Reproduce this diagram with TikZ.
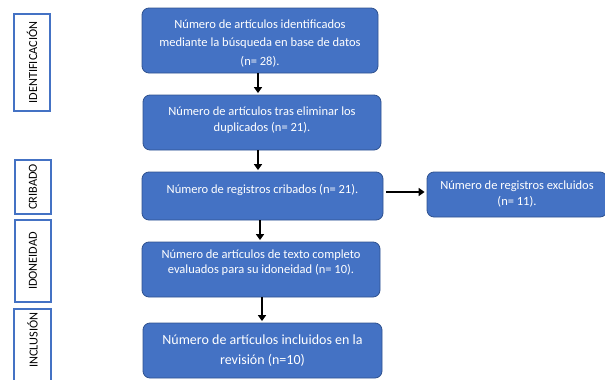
\documentclass[tikz,border=0pt]{standalone}
\usepackage{fontspec}
\setmainfont{Carlito}
\usetikzlibrary{arrows.meta,calc}
\definecolor{boxblue}{HTML}{4472C4}
\definecolor{boxedge}{HTML}{2F528F}
\tikzset{
  box/.style={draw=boxedge, line width=0.8pt, fill=boxblue, rounded corners=7pt, inner sep=0pt},
  txt/.style={text=white, align=center, font=\fontsize{12.5}{16}\selectfont, inner sep=0pt},
  phase/.style={draw=boxblue, line width=1.1pt, fill=white, inner sep=0pt},
  phasetxt/.style={rotate=90, font=\fontsize{12.3}{14}\selectfont, inner sep=0pt},
  arr/.style={line width=1.8pt, -{Triangle[length=6pt,width=8pt]}}
}
\begin{document}
\begin{tikzpicture}[x=1pt,y=-1pt]
\useasboundingbox (0,0) rectangle (605,380);
% phase labels
\node[phase, minimum width=36pt, minimum height=97pt] (p1) at (32,62.5) {};
\node[phasetxt] at (p1.center) {IDENTIFICACIÓN};
\node[phase, minimum width=36pt, minimum height=54pt] (p2) at (33,187) {};
\node[phasetxt] at (p2.center) {CRIBADO};
\node[phase, minimum width=36pt, minimum height=82pt] (p3) at (33,261) {};
\node[phasetxt] at (p3.center) {IDONEIDAD};
\node[phase, minimum width=37pt, minimum height=90pt] (p4) at (32.5,354) {};
\node[phasetxt] at ($(p4.center)+(0,-14)$) {INCLUSIÓN};
% main boxes
\node[box, minimum width=236pt, minimum height=65pt] (b1) at (260,40.5) {};
\node[txt, font=\fontsize{12.5}{18.5}\selectfont] at ($(b1.center)+(0,3)$) {Número de artículos identificados\\mediante la búsqueda en base de datos\\(n= 28).};
\node[box, minimum width=238pt, minimum height=55pt] (b2) at (262,122.5) {};
\node[txt] at ($(b2.center)+(0,-2)$) {Número de artículos tras eliminar los\\duplicados (n= 21).};
\node[box, minimum width=241pt, minimum height=48pt] (b3) at (262.5,196) {};
\node[txt] at ($(b3.center)+(0,-6)$) {Número de registros cribados (n= 21).};
\node[box, minimum width=238pt, minimum height=55pt] (b4) at (261,269.5) {};
\node[txt, font=\fontsize{12.5}{15.5}\selectfont] at ($(b4.center)+(0,-7)$) {Número de artículos de texto completo\\evaluados para su idoneidad (n= 10).};
\node[box, minimum width=239pt, minimum height=55pt] (b5) at (262.5,350.5) {};
\node[txt, font=\fontsize{14}{20}\selectfont] at (b5.center) {Número de artículos incluidos en la\\revisión (n=10)};
\node[box, minimum width=180pt, minimum height=45pt] (b6) at (517,194.5) {};
\node[txt] at (b6.center) {Número de registros excluidos\\(n= 11).};
% arrows
\draw[arr] ($(b1.south)+(-2,0)$) -- ($(b2.north)+(-4,-1.5)$);
\draw[arr] ($(b2.south)+(-4,0)$) -- ($(b3.north)+(-4.5,-1.5)$);
\draw[arr] ($(b3.south)+(-2.5,0)$) -- ($(b4.north)+(-1,-1.5)$);
\draw[arr] ($(b4.south)+(1,0)$) -- ($(b5.north)+(-0.5,-1.5)$);
\draw[arr] ($(b3.east)+(3,-4)$) -- ($(b6.west)+(-2,-2.5)$);
\end{tikzpicture}
\end{document}
